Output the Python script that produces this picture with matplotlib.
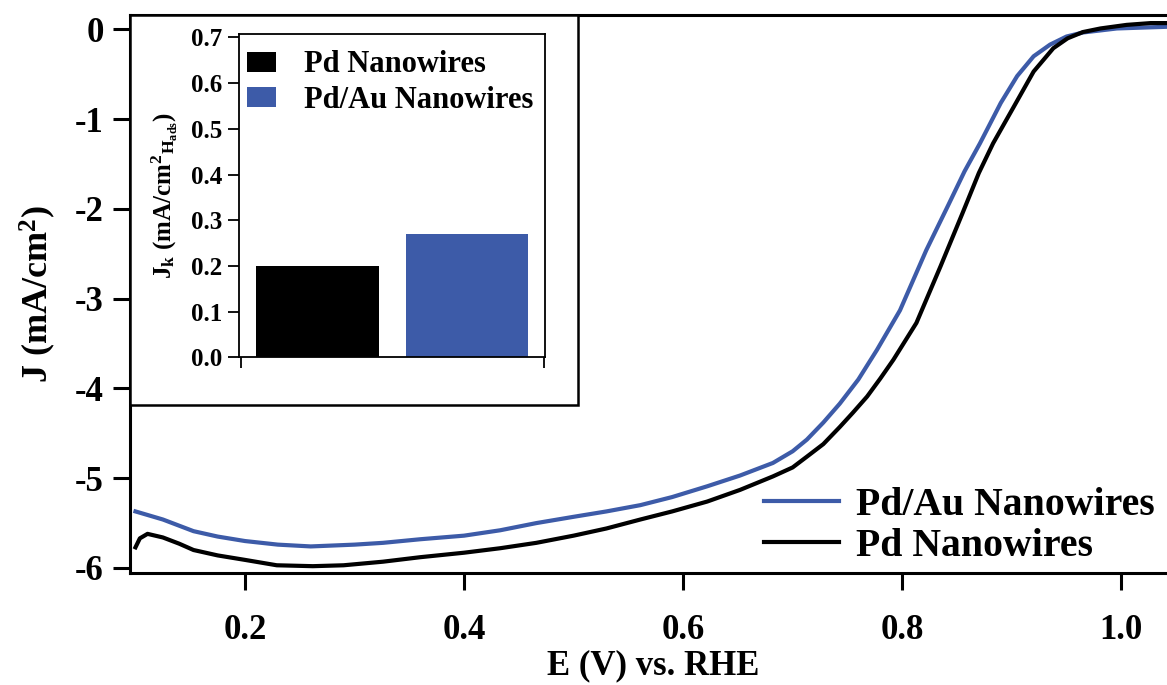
import numpy as np
import matplotlib
matplotlib.use('Agg')
import matplotlib.pyplot as plt
from matplotlib.patches import Rectangle
from matplotlib.ticker import FormatStrFormatter

# ORR polarisation curves, J vs potential
pdau_E = [0.100, 0.125, 0.153, 0.175, 0.200, 0.230, 0.260, 0.300, 0.326, 0.360,
          0.400, 0.433, 0.466, 0.500, 0.530, 0.561, 0.590, 0.622, 0.652, 0.682,
          0.700, 0.713, 0.728, 0.743, 0.760, 0.777, 0.798, 0.822, 0.842, 0.857,
          0.871, 0.890, 0.905, 0.920, 0.935, 0.950, 0.965, 0.996, 1.020, 1.045]
pdau_J = [-5.37, -5.46, -5.59, -5.65, -5.70, -5.74, -5.76, -5.74, -5.72, -5.68,
          -5.64, -5.58, -5.50, -5.43, -5.37, -5.30, -5.21, -5.09, -4.97, -4.83,
          -4.70, -4.57, -4.38, -4.17, -3.90, -3.57, -3.13, -2.46, -1.96, -1.58,
          -1.27, -0.82, -0.52, -0.30, -0.17, -0.08, -0.035, 0.01, 0.02, 0.03]

pd_E = [0.100, 0.104, 0.111, 0.125, 0.140, 0.153, 0.175, 0.200, 0.229, 0.262,
        0.290, 0.326, 0.360, 0.400, 0.433, 0.466, 0.500, 0.530, 0.561, 0.590,
        0.622, 0.652, 0.682, 0.700, 0.713, 0.728, 0.743, 0.755, 0.768, 0.780,
        0.792, 0.813, 0.835, 0.855, 0.870, 0.883, 0.902, 0.920, 0.938, 0.951,
        0.965, 0.981, 1.005, 1.027, 1.045]
pd_J = [-5.77, -5.67, -5.62, -5.66, -5.73, -5.80, -5.86, -5.91, -5.97, -5.98,
        -5.97, -5.93, -5.88, -5.83, -5.78, -5.72, -5.64, -5.56, -5.46, -5.37,
        -5.26, -5.13, -4.98, -4.88, -4.76, -4.62, -4.43, -4.27, -4.09, -3.89,
        -3.68, -3.27, -2.64, -2.05, -1.60, -1.27, -0.86, -0.47, -0.21, -0.10,
        -0.03, 0.01, 0.05, 0.07, 0.07]

# kinetic current densities for the inset
samples = ['Pd Nanowires', 'Pd/Au Nanowires']
jk = [0.20, 0.27]

black = '#000000'
blue = '#3d5ba8'

plt.rcParams['font.family'] = 'Liberation Serif'
plt.rcParams['font.weight'] = 'bold'
plt.rcParams['axes.labelweight'] = 'bold'
plt.rcParams['mathtext.fontset'] = 'custom'
plt.rcParams['mathtext.rm'] = 'Liberation Serif:bold'
plt.rcParams['mathtext.it'] = 'Liberation Serif:bold'
plt.rcParams['mathtext.bf'] = 'Liberation Serif:bold'
plt.rcParams['mathtext.default'] = 'rm'
plt.rcParams['axes.unicode_minus'] = False

W, H = 1167, 685
fig = plt.figure(figsize=(W / 100, H / 100), dpi=100)

########## MAIN AXES ##########
ax = fig.add_axes([130 / W, 1 - 573 / H, 1046 / W, 558 / H])
ax.plot(pdau_E, pdau_J, color=blue, lw=3.0, solid_joinstyle='round',
        label='Pd/Au Nanowires', zorder=3)
ax.plot(pd_E, pd_J, color=black, lw=3.0, solid_joinstyle='round',
        label='Pd Nanowires', zorder=3)
ax.set_xlim(0.095, 1.05)
ax.set_ylim(-6.056, 0.16)
ax.set_xticks([0.2, 0.4, 0.6, 0.8, 1.0])
ax.set_yticks([0, -1, -2, -3, -4, -5, -6])
ax.xaxis.set_major_formatter(FormatStrFormatter('%.1f'))
ax.yaxis.set_major_formatter(FormatStrFormatter('%d'))
ax.tick_params(axis='both', which='both', direction='out', length=12, width=2.2,
               labelsize=25, top=False, right=False)
ax.tick_params(axis='x', pad=17.5)
ax.tick_params(axis='y', pad=7)
for s in ax.spines.values():
    s.set_linewidth(2.2)
ax.spines['right'].set_visible(False)

ax.set_xlabel('E (V) vs. RHE', fontsize=25, labelpad=2)
ax.set_ylabel(r'J (mA/cm$^{2}$)', fontsize=26, labelpad=12)

ax.legend(loc='center left', bbox_to_anchor=(764 / W, 1 - 526 / H),
          bbox_transform=fig.transFigure, frameon=False, fontsize=28.6,
          labelspacing=0.1, handlelength=1.9, handletextpad=0.41,
          borderpad=0, borderaxespad=0)

# white frame behind the inset
frame = Rectangle((130 / W, 1 - 405 / H), 448 / W, 390 / H, transform=fig.transFigure,
                  facecolor='white', edgecolor='black', lw=1.8, zorder=5)
fig.add_artist(frame)

########## INSET BAR CHART ##########
axi = fig.add_axes([239.3 / W, 1 - 357.3 / H, 305.7 / W, 323 / H], zorder=6)
axi.bar([0, 1], jk, width=0.82, color=[black, blue], label=samples)
axi.set_xlim(-0.525, 1.525)
axi.set_ylim(0, 0.707)
axi.set_yticks(np.arange(0, 0.75, 0.1))
axi.yaxis.set_major_formatter(FormatStrFormatter('%.1f'))
axi.set_xticks([-0.515, 1.515])
axi.set_xticklabels([])
axi.tick_params(axis='both', direction='out', length=8, width=1.3, labelsize=18, pad=4)
for s in axi.spines.values():
    s.set_linewidth(1.3)
axi.set_ylabel(r'J$_{k}$ (mA/cm$^{2}{}_{H_{ads}}$)', fontsize=18, labelpad=8)
axi.legend(loc='center left', bbox_to_anchor=(247 / W, 1 - 82.5 / H),
           bbox_transform=fig.transFigure, frameon=False, fontsize=22,
           labelspacing=0.2, handlelength=0.95, handleheight=0.62,
           handletextpad=0.92, borderpad=0, borderaxespad=0)

fig.savefig('out.png', dpi=100)
